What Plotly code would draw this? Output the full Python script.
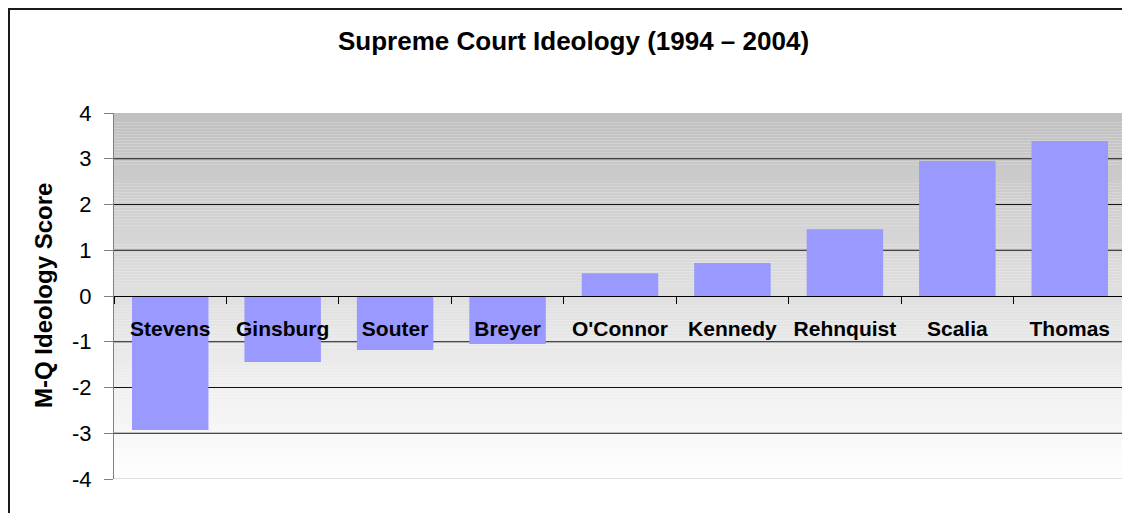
import plotly.graph_objects as go

justices = ["Stevens", "Ginsburg", "Souter", "Breyer", "O'Connor", "Kennedy", "Rehnquist", "Scalia", "Thomas"]
scores = [-2.93, -1.44, -1.18, -1.05, 0.50, 0.72, 1.46, 2.95, 3.39]
y_ticks = [-4, -3, -2, -1, 0, 1, 2, 3, 4]
grid_levels = [-3, -2, -1, 1, 2, 3]

FONT = "Liberation Sans, Arial, sans-serif"
OFF = 8  # page body margin
W, H = 1122, 505
L, R, T, B = 106, 4, 105, 34
pw, ph = W - L - R, H - T - B

def px_x(p):
    return (p - OFF - L) / pw

def px_y(p):
    return (OFF + H - B - p) / ph

fig = go.Figure()
fig.add_trace(go.Bar(
    x=justices, y=scores,
    marker=dict(color="#9999FF", line=dict(width=0)),
    width=0.68, hoverinfo="x+y",
))

shapes = []
n = 120
y_lo, y_hi = y_ticks[0], y_ticks[-1]
for i in range(n):
    y0 = y_lo + (y_hi - y_lo) * i / n
    y1 = y_lo + (y_hi - y_lo) * (i + 1) / n
    t = (i + 0.5) / n
    c = round(255 - (255 - 192) * t)
    shapes.append(dict(type="rect", xref="paper", yref="y", x0=0, x1=1, y0=y0, y1=y1,
                       fillcolor=f"rgb({c},{c},{c})", line=dict(width=0), layer="below"))
for g in grid_levels:
    shapes.append(dict(type="line", xref="paper", yref="y", x0=0, x1=1, y0=g, y1=g,
                       line=dict(color="#111111", width=1), layer="below"))
shapes.append(dict(type="line", xref="paper", yref="y", x0=0, x1=1, y0=y_lo, y1=y_lo,
                   line=dict(color="#C0C0C0", width=1), layer="below"))
shapes.append(dict(type="rect", xref="paper", yref="paper",
                   x0=px_x(9), x1=px_x(1140), y0=px_y(9), y1=px_y(530),
                   line=dict(color="#1a1a1a", width=2), fillcolor="rgba(0,0,0,0)", layer="above"))

fig.update_layout(
    width=W, height=H,
    margin=dict(l=L, r=R, t=T, b=B, pad=0),
    paper_bgcolor="white", plot_bgcolor="white",
    showlegend=False,
    shapes=shapes,
    font=dict(family=FONT, color="black"),
    annotations=[
        dict(text="<b>Supreme Court Ideology (1994 – 2004)</b>", xref="paper", yref="paper",
             x=px_x(573), y=px_y(41), xanchor="center", yanchor="middle", showarrow=False,
             font=dict(family=FONT, size=26, color="black")),
        dict(text="<b>M-Q Ideology Score</b>", xref="paper", yref="paper",
             x=px_x(43), y=0.5, xanchor="center", yanchor="middle", showarrow=False, textangle=-90,
             font=dict(family=FONT, size=24, color="black")),
    ],
)
fig.update_xaxes(
    type="category", categoryorder="array", categoryarray=justices,
    range=[-0.5, len(justices) - 0.5],
    anchor="free", position=0.5,
    showline=True, linecolor="#000000", linewidth=1,
    ticks="outside", tickson="boundaries", ticklen=7, tickcolor="#000000", tickwidth=1,
    showgrid=False, zeroline=False,
    tickfont=dict(family=FONT, size=21, color="black", weight="bold"),
    ticklabelstandoff=14,
    fixedrange=True,
)
fig.update_yaxes(
    range=[y_lo, y_hi], tickvals=y_ticks, ticktext=[str(v) for v in y_ticks],
    showline=True, linecolor="#808080", linewidth=1,
    ticks="outside", ticklen=9, tickcolor="#808080", tickwidth=1,
    showgrid=False, zeroline=False,
    tickfont=dict(family=FONT, size=22, color="black"),
    ticklabelstandoff=8,
    fixedrange=True,
)

fig.write_html("out.html")
